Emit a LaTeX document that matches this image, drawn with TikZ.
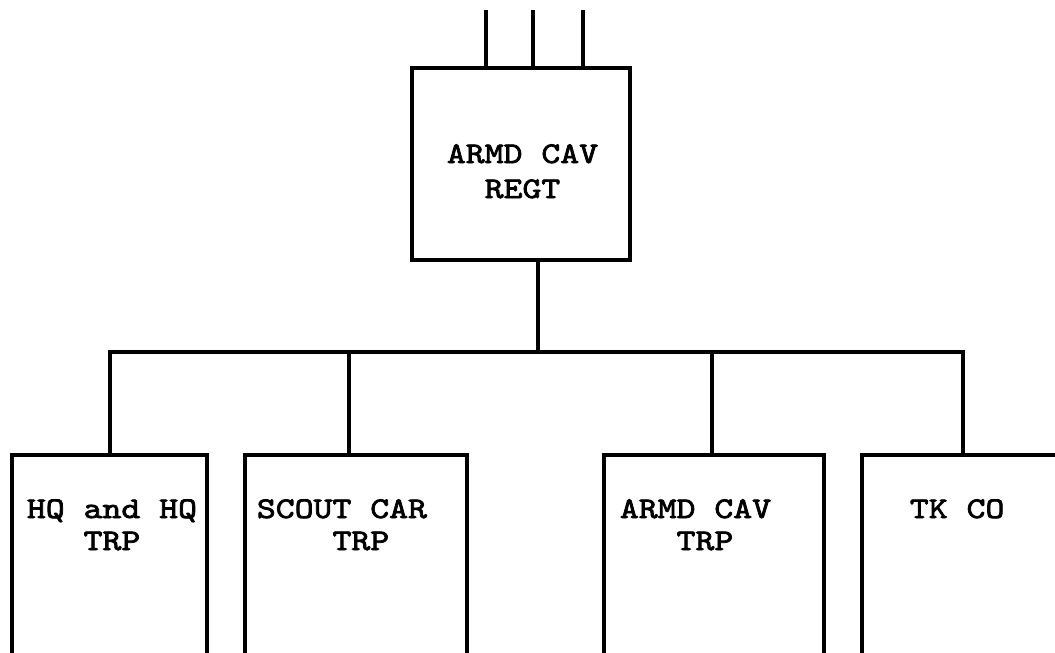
\documentclass[tikz,border=0pt]{standalone}
\usepackage{fontspec}
\newfontfamily\typew[FakeStretch=1.2,FakeBold=2.5]{lmmono10-regular.otf}
\newcommand\tsp{\leavevmode\phantom{X}}
\begin{document}
\begin{tikzpicture}[x=1pt,y=-1pt,
  line width=3.8pt, line cap=rect,
  unit/.style={draw, rectangle, inner sep=0pt, anchor=north west},
  lbl/.style={anchor=base west, inner sep=0pt, text width=220pt, align=left,
    font={\typew\fontsize{30}{32}\selectfont}},
  toplbl/.style={lbl, font={\typew\fontsize{30}{35}\selectfont}}]
\useasboundingbox (0,0) rectangle (1055,653);
% top unit
\node[unit, minimum width=218pt, minimum height=192pt] (regt) at (410,66) {};
\node[toplbl] (regtlbl) at (445,163) {ARMD\tsp CAV\\\tsp\tsp REGT};
% lines going up
\coordinate (u1) at (486,12);
\coordinate (u2) at (533,12);
\coordinate (u3) at (583,12);
\draw (u1) -- (u1 |- regt.north);
\draw (u2) -- (u2 |- regt.north);
\draw (u3) -- (u3 |- regt.north);
% subordinate units
\node[unit, minimum width=195pt, minimum height=240pt] (hq) at (10,453) {};
\node[unit, minimum width=222pt, minimum height=240pt] (scout) at (243,453) {};
\node[unit, minimum width=220pt, minimum height=240pt] (armd) at (602,453) {};
\node[unit, minimum width=240pt, minimum height=240pt] (tk) at (860,453) {};
\node[lbl] (hqlbl) at (25,518) {HQ\tsp and\tsp HQ\\\tsp\tsp\tsp TRP};
\node[lbl] (scoutlbl) at (255,518) {SCOUT\tsp CAR\\\tsp\tsp\tsp\tsp TRP};
\node[lbl] (armdlbl) at (618,518) {ARMD\tsp CAV\\\tsp\tsp\tsp TRP};
\node[lbl] (tklbl) at (908,518) {TK\tsp CO};
% bus
\coordinate (bus) at (538,352);
\coordinate (busl) at (110,352);
\coordinate (busr) at (963,352);
\coordinate (d2) at (349,352);
\coordinate (d3) at (712,352);
\draw (bus |- regt.south) -- (bus);
\draw (busl) -- (busr);
\draw (busl) -- (busl |- hq.north);
\draw (d2) -- (d2 |- scout.north);
\draw (d3) -- (d3 |- armd.north);
\draw (busr) -- (busr |- tk.north);
\end{tikzpicture}
\end{document}
